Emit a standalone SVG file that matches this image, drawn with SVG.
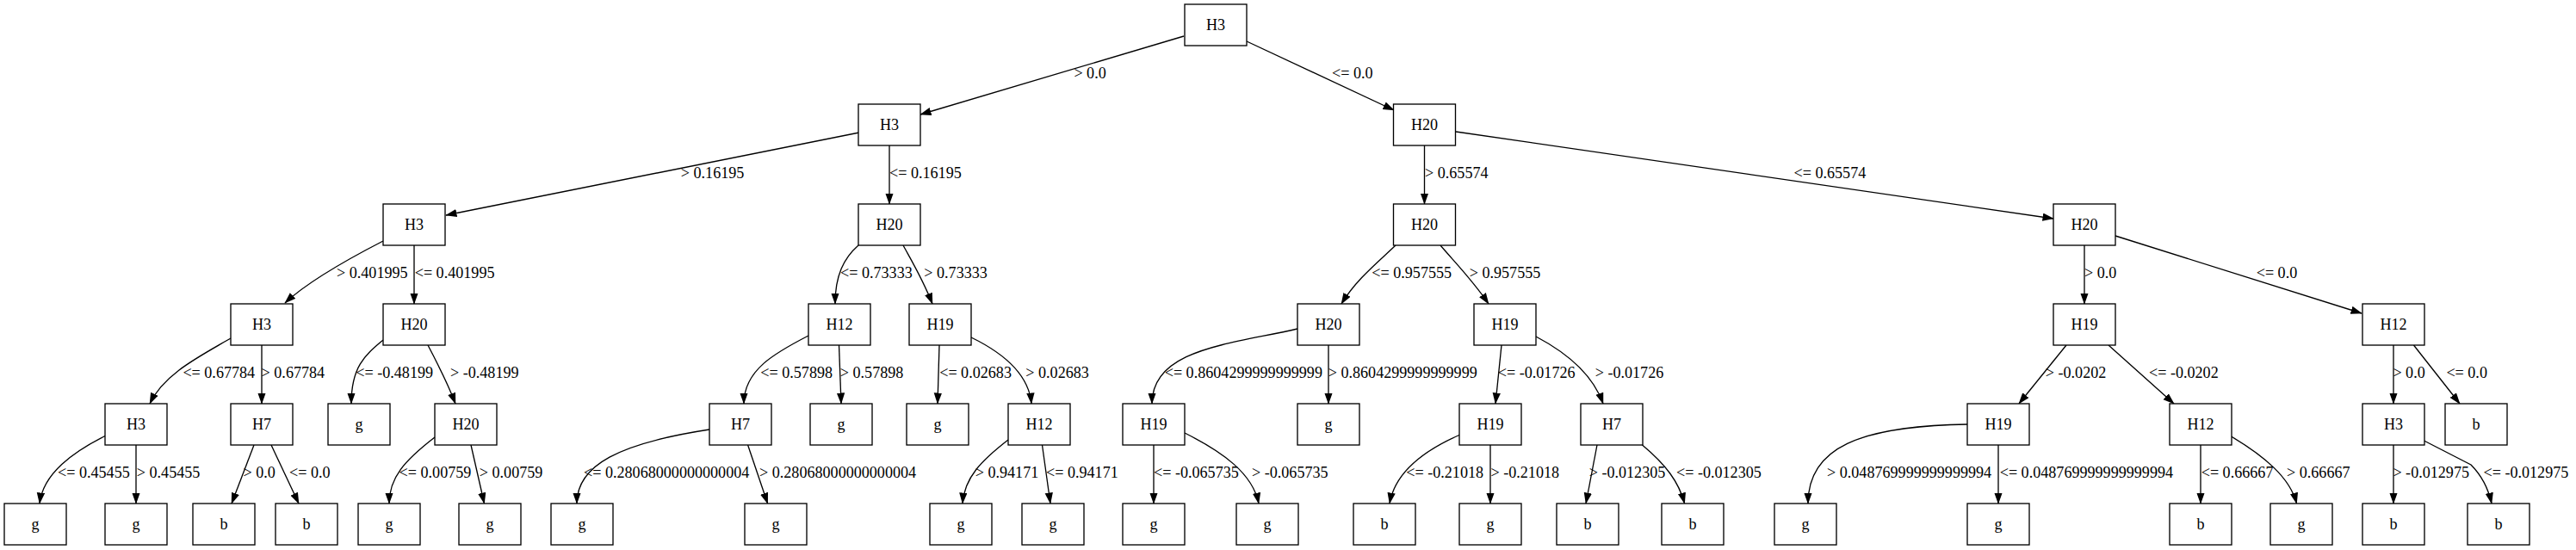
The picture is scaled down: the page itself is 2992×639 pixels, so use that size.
<svg xmlns="http://www.w3.org/2000/svg" width="2992" height="639" viewBox="0 0 2992 639">
<style>
.n rect{fill:#fff;stroke:#000;stroke-width:1.33}
.n text{font-family:"Liberation Serif","Times New Roman",serif;font-size:18.1px;text-anchor:middle;fill:#000}
#edges path{fill:none;stroke:#000;stroke-width:1.33;marker-end:url(#a)}
#labels text{font-family:"Liberation Serif","Times New Roman",serif;font-size:18.1px;fill:#000}
</style>
<defs>
<marker id="a" markerWidth="14" markerHeight="10" refX="12.5" refY="4.67" orient="auto" markerUnits="userSpaceOnUse"><path d="M0,0 L13.3,4.67 L0,9.33 z" fill="#000"/></marker>
</defs>
<rect width="2992" height="639" fill="#fff"/>
<g id="edges">
<path d="M1375,42 L1069,133"/>
<path d="M1448,48 L1619,128"/>
<path d="M998,154 L518,250"/>
<path d="M1033,169 L1033,237"/>
<path d="M1654.5,169 L1654.5,237"/>
<path d="M1691,153 L2385,254"/>
<path d="M445,280 C410,298 360,325 331,352"/>
<path d="M481,285 L481,353"/>
<path d="M997,285 C980,300 970,320 970,353"/>
<path d="M1049,285 C1060,305 1072,325 1083,353"/>
<path d="M1621,285 C1600,305 1575,325 1558,353"/>
<path d="M1673,285 C1690,305 1710,325 1729,353"/>
<path d="M2421,285 L2421,353"/>
<path d="M2457,274 L2743,364"/>
<path d="M268,393 C230,415 190,435 174,469"/>
<path d="M304,401 L304,469"/>
<path d="M445,395 C425,412 408,425 408,469"/>
<path d="M497,401 C507,420 520,445 529,469"/>
<path d="M939,390 C900,410 864,430 864,469"/>
<path d="M974.5,401 L977,469"/>
<path d="M1091,401 L1089,469"/>
<path d="M1128,392 C1165,410 1195,435 1198,469"/>
<path d="M1507,382 C1430,400 1338,405 1338,469"/>
<path d="M1543,401 L1543,469"/>
<path d="M1744,401 L1737,469"/>
<path d="M1784,391 C1820,410 1850,435 1862,469"/>
<path d="M2400,401 L2345,469"/>
<path d="M2449,401 L2525,469"/>
<path d="M2780,401 L2780,469"/>
<path d="M2803.5,401 L2857,469"/>
<path d="M123,506 C85,525 50,550 46,585"/>
<path d="M158,517 L158,585"/>
<path d="M295,517 L269,585"/>
<path d="M315,517 L347,585"/>
<path d="M505,508 C470,535 452,555 452,585"/>
<path d="M547,517 L562.5,585"/>
<path d="M824,499 C720,515 670,540 670,585"/>
<path d="M868.6,517 L891.6,585"/>
<path d="M1171,511 C1140,535 1120,555 1118,585"/>
<path d="M1210.5,517 L1220,585"/>
<path d="M1340,517 L1340,585"/>
<path d="M1376,503 C1420,525 1455,550 1462,585"/>
<path d="M1696,505 C1650,525 1620,550 1614,585"/>
<path d="M1731,517 L1731,585"/>
<path d="M1855,517 L1842,585"/>
<path d="M1907.5,517 C1935,540 1950,560 1956.6,585"/>
<path d="M2285,493 C2160,495 2100,520 2100,585"/>
<path d="M2321,517 L2321,585"/>
<path d="M2556,517 L2556,585"/>
<path d="M2591.5,507 C2630,530 2660,555 2667.5,585"/>
<path d="M2780,517 L2780,585"/>
<path d="M2815.5,512 L2870,540 Q2888,558 2894,585"/>
</g>
<g id="labels">
<text x="1247.4" y="91.3">&gt; 0.0</text>
<text x="1547" y="91.3">&lt;= 0.0</text>
<text x="790.8" y="207.3">&gt; 0.16195</text>
<text x="1033" y="207.3">&lt;= 0.16195</text>
<text x="1655" y="207.3">&gt; 0.65574</text>
<text x="2083.5" y="207.3">&lt;= 0.65574</text>
<text x="391" y="323.3">&gt; 0.401995</text>
<text x="481.7" y="323.3">&lt;= 0.401995</text>
<text x="976" y="323.3">&lt;= 0.73333</text>
<text x="1073.3" y="323.3">&gt; 0.73333</text>
<text x="1593.3" y="323.3">&lt;= 0.957555</text>
<text x="1706.7" y="323.3">&gt; 0.957555</text>
<text x="2421" y="323.3">&gt; 0.0</text>
<text x="2620.7" y="323.3">&lt;= 0.0</text>
<text x="212.4" y="439.3">&lt;= 0.67784</text>
<text x="303.6" y="439.3">&gt; 0.67784</text>
<text x="413.3" y="439.3">&lt;= -0.48199</text>
<text x="523" y="439.3">&gt; -0.48199</text>
<text x="883.3" y="439.3">&lt;= 0.57898</text>
<text x="975.8" y="439.3">&gt; 0.57898</text>
<text x="1091.2" y="439.3">&lt;= 0.02683</text>
<text x="1191.3" y="439.3">&gt; 0.02683</text>
<text x="1352.7" y="439.3">&lt;= 0.8604299999999999</text>
<text x="1542.7" y="439.3">&gt; 0.8604299999999999</text>
<text x="1739.8" y="439.3">&lt;= -0.01726</text>
<text x="1852.7" y="439.3">&gt; -0.01726</text>
<text x="2375.8" y="439.3">&gt; -0.0202</text>
<text x="2496" y="439.3">&lt;= -0.0202</text>
<text x="2779.4" y="439.3">&gt; 0.0</text>
<text x="2841.4" y="439.3">&lt;= 0.0</text>
<text x="67" y="555.3">&lt;= 0.45455</text>
<text x="158.8" y="555.3">&gt; 0.45455</text>
<text x="282.5" y="555.3">&gt; 0.0</text>
<text x="336" y="555.3">&lt;= 0.0</text>
<text x="463.6" y="555.3">&lt;= 0.00759</text>
<text x="556.8" y="555.3">&gt; 0.00759</text>
<text x="678" y="555.3">&lt;= 0.28068000000000004</text>
<text x="882" y="555.3">&gt; 0.28068000000000004</text>
<text x="1132.7" y="555.3">&gt; 0.94171</text>
<text x="1215" y="555.3">&lt;= 0.94171</text>
<text x="1340" y="555.3">&lt;= -0.065735</text>
<text x="1454" y="555.3">&gt; -0.065735</text>
<text x="1633.3" y="555.3">&lt;= -0.21018</text>
<text x="1731.5" y="555.3">&gt; -0.21018</text>
<text x="1845.7" y="555.3">&gt; -0.012305</text>
<text x="1947" y="555.3">&lt;= -0.012305</text>
<text x="2122" y="555.3">&gt; 0.048769999999999994</text>
<text x="2322.7" y="555.3">&lt;= 0.048769999999999994</text>
<text x="2556.7" y="555.3">&lt;= 0.66667</text>
<text x="2656" y="555.3">&gt; 0.66667</text>
<text x="2779.4" y="555.3">&gt; -0.012975</text>
<text x="2884.5" y="555.3">&lt;= -0.012975</text>
</g>
<g id="n0" class="n"><rect x="1376" y="5" width="72" height="48"/><text x="1412" y="35">H3</text></g>
<g id="n1" class="n"><rect x="997" y="121" width="72" height="48"/><text x="1033" y="151">H3</text></g>
<g id="n2" class="n"><rect x="1618.5" y="121" width="72" height="48"/><text x="1654.5" y="151">H20</text></g>
<g id="n3" class="n"><rect x="445" y="237" width="72" height="48"/><text x="481" y="267">H3</text></g>
<g id="n4" class="n"><rect x="997" y="237" width="72" height="48"/><text x="1033" y="267">H20</text></g>
<g id="n5" class="n"><rect x="1618.5" y="237" width="72" height="48"/><text x="1654.5" y="267">H20</text></g>
<g id="n6" class="n"><rect x="2385" y="237" width="72" height="48"/><text x="2421" y="267">H20</text></g>
<g id="n7" class="n"><rect x="268" y="353" width="72" height="48"/><text x="304" y="383">H3</text></g>
<g id="n8" class="n"><rect x="445" y="353" width="72" height="48"/><text x="481" y="383">H20</text></g>
<g id="n9" class="n"><rect x="939" y="353" width="72" height="48"/><text x="975" y="383">H12</text></g>
<g id="n10" class="n"><rect x="1056" y="353" width="72" height="48"/><text x="1092" y="383">H19</text></g>
<g id="n11" class="n"><rect x="1507" y="353" width="72" height="48"/><text x="1543" y="383">H20</text></g>
<g id="n12" class="n"><rect x="1712" y="353" width="72" height="48"/><text x="1748" y="383">H19</text></g>
<g id="n13" class="n"><rect x="2385" y="353" width="72" height="48"/><text x="2421" y="383">H19</text></g>
<g id="n14" class="n"><rect x="2744" y="353" width="72" height="48"/><text x="2780" y="383">H12</text></g>
<g id="n15" class="n"><rect x="122" y="469" width="72" height="48"/><text x="158" y="499">H3</text></g>
<g id="n16" class="n"><rect x="268" y="469" width="72" height="48"/><text x="304" y="499">H7</text></g>
<g id="n17" class="n"><rect x="381" y="469" width="72" height="48"/><text x="417" y="499">g</text></g>
<g id="n18" class="n"><rect x="505" y="469" width="72" height="48"/><text x="541" y="499">H20</text></g>
<g id="n19" class="n"><rect x="824" y="469" width="72" height="48"/><text x="860" y="499">H7</text></g>
<g id="n20" class="n"><rect x="941" y="469" width="72" height="48"/><text x="977" y="499">g</text></g>
<g id="n21" class="n"><rect x="1053" y="469" width="72" height="48"/><text x="1089" y="499">g</text></g>
<g id="n22" class="n"><rect x="1171" y="469" width="72" height="48"/><text x="1207" y="499">H12</text></g>
<g id="n23" class="n"><rect x="1304" y="469" width="72" height="48"/><text x="1340" y="499">H19</text></g>
<g id="n24" class="n"><rect x="1507" y="469" width="72" height="48"/><text x="1543" y="499">g</text></g>
<g id="n25" class="n"><rect x="1695" y="469" width="72" height="48"/><text x="1731" y="499">H19</text></g>
<g id="n26" class="n"><rect x="1836" y="469" width="72" height="48"/><text x="1872" y="499">H7</text></g>
<g id="n27" class="n"><rect x="2285" y="469" width="72" height="48"/><text x="2321" y="499">H19</text></g>
<g id="n28" class="n"><rect x="2520" y="469" width="72" height="48"/><text x="2556" y="499">H12</text></g>
<g id="n29" class="n"><rect x="2744" y="469" width="72" height="48"/><text x="2780" y="499">H3</text></g>
<g id="n30" class="n"><rect x="2840" y="469" width="72" height="48"/><text x="2876" y="499">b</text></g>
<g id="n31" class="n"><rect x="5" y="585" width="72" height="48"/><text x="41" y="615">g</text></g>
<g id="n32" class="n"><rect x="122" y="585" width="72" height="48"/><text x="158" y="615">g</text></g>
<g id="n33" class="n"><rect x="224" y="585" width="72" height="48"/><text x="260" y="615">b</text></g>
<g id="n34" class="n"><rect x="320" y="585" width="72" height="48"/><text x="356" y="615">b</text></g>
<g id="n35" class="n"><rect x="416" y="585" width="72" height="48"/><text x="452" y="615">g</text></g>
<g id="n36" class="n"><rect x="533" y="585" width="72" height="48"/><text x="569" y="615">g</text></g>
<g id="n37" class="n"><rect x="640" y="585" width="72" height="48"/><text x="676" y="615">g</text></g>
<g id="n38" class="n"><rect x="865" y="585" width="72" height="48"/><text x="901" y="615">g</text></g>
<g id="n39" class="n"><rect x="1080" y="585" width="72" height="48"/><text x="1116" y="615">g</text></g>
<g id="n40" class="n"><rect x="1187" y="585" width="72" height="48"/><text x="1223" y="615">g</text></g>
<g id="n41" class="n"><rect x="1304" y="585" width="72" height="48"/><text x="1340" y="615">g</text></g>
<g id="n42" class="n"><rect x="1436" y="585" width="72" height="48"/><text x="1472" y="615">g</text></g>
<g id="n43" class="n"><rect x="1572" y="585" width="72" height="48"/><text x="1608" y="615">b</text></g>
<g id="n44" class="n"><rect x="1695" y="585" width="72" height="48"/><text x="1731" y="615">g</text></g>
<g id="n45" class="n"><rect x="1808" y="585" width="72" height="48"/><text x="1844" y="615">b</text></g>
<g id="n46" class="n"><rect x="1930" y="585" width="72" height="48"/><text x="1966" y="615">b</text></g>
<g id="n47" class="n"><rect x="2061" y="585" width="72" height="48"/><text x="2097" y="615">g</text></g>
<g id="n48" class="n"><rect x="2285" y="585" width="72" height="48"/><text x="2321" y="615">g</text></g>
<g id="n49" class="n"><rect x="2520" y="585" width="72" height="48"/><text x="2556" y="615">b</text></g>
<g id="n50" class="n"><rect x="2637" y="585" width="72" height="48"/><text x="2673" y="615">g</text></g>
<g id="n51" class="n"><rect x="2744" y="585" width="72" height="48"/><text x="2780" y="615">b</text></g>
<g id="n52" class="n"><rect x="2866" y="585" width="72" height="48"/><text x="2902" y="615">b</text></g>
</svg>
